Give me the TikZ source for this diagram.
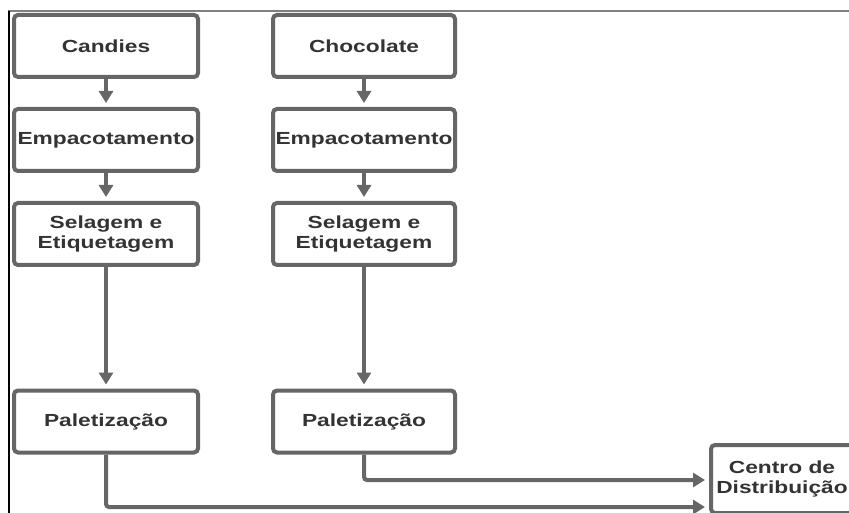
\documentclass[tikz,border=0pt]{standalone}
\usepackage{fontspec}
\newfontfamily\boxfont{Liberation Sans}[FakeStretch=1.3]
\usetikzlibrary{arrows.meta}
\definecolor{edge}{HTML}{666666}
\definecolor{ink}{HTML}{333333}
\definecolor{rule}{HTML}{808080}
\begin{document}
\begin{tikzpicture}[x=1pt,y=-1pt,
  stepbox/.style={draw=edge, line width=4pt, rounded corners=4pt, fill=white,
    minimum width=184pt, minimum height=62pt, inner sep=0pt, align=center,
    text=ink, font=\boxfont\bfseries\fontsize{17.5}{20.5}\selectfont},
  flow/.style={draw=edge, line width=4pt, rounded corners=3pt,
    -{Triangle[length=12pt,width=14pt]}, shorten >=4pt}]
\useasboundingbox (0,0) rectangle (849,513);
\clip (0,0) rectangle (849,513);

% page frame
\draw[rule, line width=2pt] (8,11) -- (849,11);
\draw[black, line width=1.2pt] (9,11) -- (9,513);

% left line: candies
\node[stepbox] (c1) at (106,46) {Candies};
\node[stepbox] (c2) at (106,140) {Empacotamento};
\node[stepbox] (c3) at (106,234) {Selagem e\\Etiquetagem};
\node[stepbox] (c4) at (106,421.5) {Paletização};

% right line: chocolate
\node[stepbox, minimum width=182pt] (k1) at (364,46) {Chocolate};
\node[stepbox, minimum width=182pt] (k2) at (364,140) {Empacotamento};
\node[stepbox, minimum width=182pt] (k3) at (364,234) {Selagem e\\Etiquetagem};
\node[stepbox, minimum width=182pt] (k4) at (364,421.5) {Paletização};

% distribution centre
\node[stepbox, minimum width=142pt, minimum height=68pt] (dc) at (782,479) {Centro de\\Distribuição};

\coordinate (highrow) at (0,480);
\coordinate (lowrow) at (0,507);

\draw[flow] (c1) -- (c2);
\draw[flow] (c2) -- (c3);
\draw[flow] (c3) -- (c4);
\draw[flow] (k1) -- (k2);
\draw[flow] (k2) -- (k3);
\draw[flow] (k3) -- (k4);
\draw[flow] (k4.south) |- (highrow -| dc.west);
\draw[flow] (c4.south) |- (lowrow -| dc.west);
\end{tikzpicture}
\end{document}
